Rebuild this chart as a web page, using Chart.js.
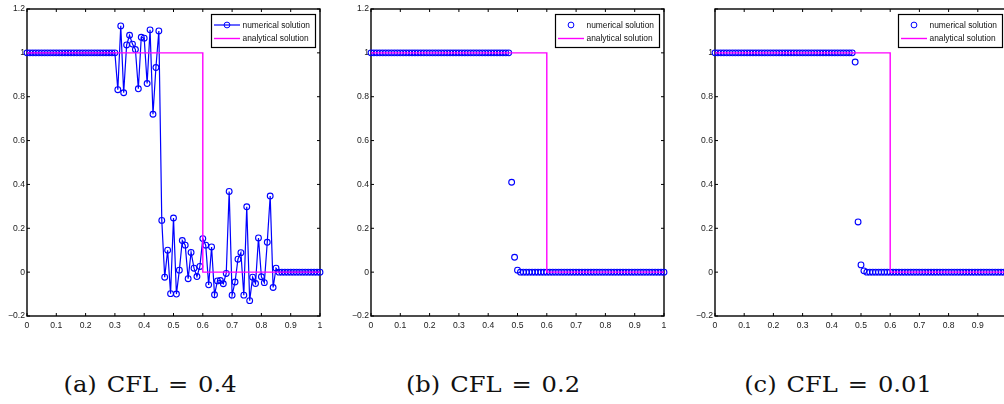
<!DOCTYPE html>
<html>
<head>
<meta charset="utf-8">
<script src="https://cdn.jsdelivr.net/npm/chart.js@4.4.1/dist/chart.umd.min.js"></script>
<style>
  html, body { margin: 0; padding: 0; background: #fff; }
  body { position: relative; width: 1004px; height: 404px; overflow: hidden; }
  canvas { position: absolute; top: 0; }
  .caption {
    position: absolute; top: 374px; line-height: 22px; white-space: nowrap;
    font-family: "DejaVu Serif", serif; font-size: 22px; color: #111;
    word-spacing: 2px; transform: translateX(-50%) scaleX(1.1);
  }
</style>
</head>
<body>
<canvas id="cflA" width="335" height="336" style="left:0px"></canvas>
<canvas id="cflB" width="335" height="336" style="left:340px"></canvas>
<canvas id="cflC" width="340" height="336" style="left:680px"></canvas>
<div class="caption" style="left:150px">(a) CFL = 0.4</div>
<div class="caption" style="left:493px">(b) CFL = 0.2</div>
<div class="caption" style="left:838px">(c) CFL = 0.01</div>

<script>
// grid nodes on [0, 1]
const xNodes = [
  0, 0.01, 0.02, 0.03, 0.04, 0.05, 0.06, 0.07, 0.08, 0.09,
  0.1, 0.11, 0.12, 0.13, 0.14, 0.15, 0.16, 0.17, 0.18, 0.19,
  0.2, 0.21, 0.22, 0.23, 0.24, 0.25, 0.26, 0.27, 0.28, 0.29,
  0.3, 0.31, 0.32, 0.33, 0.34, 0.35, 0.36, 0.37, 0.38, 0.39,
  0.4, 0.41, 0.42, 0.43, 0.44, 0.45, 0.46, 0.47, 0.48, 0.49,
  0.5, 0.51, 0.52, 0.53, 0.54, 0.55, 0.56, 0.57, 0.58, 0.59,
  0.6, 0.61, 0.62, 0.63, 0.64, 0.65, 0.66, 0.67, 0.68, 0.69,
  0.7, 0.71, 0.72, 0.73, 0.74, 0.75, 0.76, 0.77, 0.78, 0.79,
  0.8, 0.81, 0.82, 0.83, 0.84, 0.85, 0.86, 0.87, 0.88, 0.89,
  0.9, 0.91, 0.92, 0.93, 0.94, 0.95, 0.96, 0.97, 0.98, 0.99,
  1
];

// numerical solution, CFL = 0.4
const uCfl04 = [
  1, 1, 1, 1, 1, 1, 1, 1, 1, 1,
  1, 1, 1, 1, 1, 1, 1, 1, 1, 1,
  1, 1, 1, 1, 1, 1, 1, 1, 1, 1,
  1, 0.832, 1.123, 0.818, 1.036, 1.08, 1.04, 1.015, 0.836, 1.071,
  1.067, 0.86, 1.105, 0.72, 0.933, 1.1, 0.236, -0.023, 0.1, -0.098,
  0.247, -0.1, 0.009, 0.144, 0.123, -0.03, 0.09, 0.018, -0.02, 0.026,
  0.153, 0.123, -0.058, 0.115, -0.103, -0.04, -0.038, -0.053, -0.006, 0.368,
  -0.105, -0.045, 0.059, 0.089, -0.105, 0.298, -0.13, -0.023, -0.052, 0.156,
  -0.021, -0.048, 0.136, 0.347, -0.07, 0.018, 0, 0, 0, 0,
  0, 0, 0, 0, 0, 0, 0, 0, 0, 0,
  0
];

// numerical solution, CFL = 0.2
const uCfl02 = [
  1, 1, 1, 1, 1, 1, 1, 1, 1, 1,
  1, 1, 1, 1, 1, 1, 1, 1, 1, 1,
  1, 1, 1, 1, 1, 1, 1, 1, 1, 1,
  1, 1, 1, 1, 1, 1, 1, 1, 1, 1,
  1, 1, 1, 1, 1, 1, 1, 1, 0.41, 0.068,
  0.009, 0, 0, 0, 0, 0, 0, 0, 0, 0,
  0, 0, 0, 0, 0, 0, 0, 0, 0, 0,
  0, 0, 0, 0, 0, 0, 0, 0, 0, 0,
  0, 0, 0, 0, 0, 0, 0, 0, 0, 0,
  0, 0, 0, 0, 0, 0, 0, 0, 0, 0,
  0
];

// numerical solution, CFL = 0.01
const uCfl001 = [
  1, 1, 1, 1, 1, 1, 1, 1, 1, 1,
  1, 1, 1, 1, 1, 1, 1, 1, 1, 1,
  1, 1, 1, 1, 1, 1, 1, 1, 1, 1,
  1, 1, 1, 1, 1, 1, 1, 1, 1, 1,
  1, 1, 1, 1, 1, 1, 1, 1, 0.958, 0.229,
  0.033, 0.006, 0, 0, 0, 0, 0, 0, 0, 0,
  0, 0, 0, 0, 0, 0, 0, 0, 0, 0,
  0, 0, 0, 0, 0, 0, 0, 0, 0, 0,
  0, 0, 0, 0, 0, 0, 0, 0, 0, 0,
  0, 0, 0, 0, 0, 0, 0, 0, 0, 0,
  0
];

// exact step profile
const exactX = [0, 0.6, 0.6, 1];
const exactU = [1, 1, 0, 0];

const xTicks = [0, 0.1, 0.2, 0.3, 0.4, 0.5, 0.6, 0.7, 0.8, 0.9, 1];
const xTickLabels = ['0', '0.1', '0.2', '0.3', '0.4', '0.5', '0.6', '0.7', '0.8', '0.9', '1'];
const yTicks = [-0.2, 0, 0.2, 0.4, 0.6, 0.8, 1, 1.2];
const yTickLabels = ['\u22120.2', '0', '0.2', '0.4', '0.6', '0.8', '1', '1.2'];
const yTickLabelsC = ['\u22120.2', '0', '0.2', '0.4', '0.6', '0.8', '1', ''];

const BLUE = '#0000ff';
const MAGENTA = '#ff00ff';
const tickFont = { family: '"Liberation Sans", Arial, sans-serif', size: 8.6 };

// box around the axes with inward ticks on all four sides
const boxAxes = {
  id: 'boxAxes',
  beforeDatasetsDraw(chart) {
    const { ctx, chartArea: a, scales: { x, y } } = chart;
    ctx.save();
    ctx.strokeStyle = '#000';
    ctx.lineWidth = 1.4;
    ctx.strokeRect(a.left, a.top, a.right - a.left, a.bottom - a.top);
    ctx.lineWidth = 1;
    ctx.beginPath();
    x.ticks.forEach(t => {
      const px = x.getPixelForValue(t.value);
      ctx.moveTo(px, a.bottom); ctx.lineTo(px, a.bottom - 3);
      ctx.moveTo(px, a.top); ctx.lineTo(px, a.top + 3);
    });
    y.ticks.forEach(t => {
      const py = y.getPixelForValue(t.value);
      ctx.moveTo(a.left, py); ctx.lineTo(a.left + 3, py);
      ctx.moveTo(a.right, py); ctx.lineTo(a.right - 3, py);
    });
    ctx.stroke();
    ctx.restore();
  }
};

// boxed legend in the upper right corner
const boxLegend = {
  id: 'boxLegend',
  afterDraw(chart) {
    const { ctx, chartArea: a } = chart;
    const w = 104, h = 33;
    const left = a.right - 4.5 - w, top = a.top + 5.5;
    ctx.save();
    ctx.fillStyle = '#fff';
    ctx.fillRect(left, top, w, h);
    ctx.strokeStyle = '#000';
    ctx.lineWidth = 1.2;
    ctx.strokeRect(left, top, w, h);
    ctx.font = '8.4px "Liberation Sans", Arial, sans-serif';
    ctx.textBaseline = 'middle';
    chart.data.datasets.forEach((ds, i) => {
      const cy = top + 10.5 + i * 13.5;
      if (ds.showLine !== false) {
        ctx.strokeStyle = ds.borderColor;
        ctx.lineWidth = ds.borderWidth;
        ctx.beginPath();
        ctx.moveTo(left + 2.5, cy);
        ctx.lineTo(left + 28.5, cy);
        ctx.stroke();
      }
      if (ds.pointRadius > 0) {
        ctx.strokeStyle = ds.pointBorderColor;
        ctx.lineWidth = 1;
        ctx.beginPath();
        ctx.arc(left + 15.5, cy, ds.pointRadius, 0, Math.PI * 2);
        ctx.stroke();
      }
      ctx.fillStyle = '#111';
      ctx.fillText(ds.label, left + 31, cy + 0.5);
    });
    ctx.restore();
  }
};

function solutionChart(id, u, withLine, axisWidth, padRight, yLabels) {
  const canvas = document.getElementById(id);
  return new Chart(canvas, {
    type: 'line',
    data: {
      datasets: [{
        label: 'numerical solution',
        data: xNodes.map((x, i) => ({ x, y: u[i] })),
        showLine: withLine,
        borderColor: BLUE,
        borderWidth: 1.2,
        pointStyle: 'circle',
        pointRadius: 2.9,
        pointBorderColor: BLUE,
        pointBackgroundColor: 'rgba(0,0,0,0)',
        pointBorderWidth: 1.1,
        tension: 0,
        clip: false,
        order: 1
      }, {
        label: 'analytical solution',
        data: exactX.map((x, i) => ({ x, y: exactU[i] })),
        borderColor: MAGENTA,
        borderWidth: 1.4,
        pointRadius: 0,
        tension: 0,
        clip: false,
        order: 0
      }]
    },
    options: {
      responsive: false,
      animation: false,
      devicePixelRatio: 1,
      events: [],
      layout: { padding: { left: 0, top: 9, right: padRight, bottom: 0 } },
      plugins: { legend: { display: false }, tooltip: { enabled: false } },
      scales: {
        x: {
          type: 'linear', min: 0, max: 1,
          afterBuildTicks: s => { s.ticks = xTicks.map(v => ({ value: v })); },
          afterFit: s => { s.height = 20; },
          grid: { display: false, drawTicks: false },
          border: { display: false },
          ticks: { font: tickFont, color: '#1a1a1a', padding: 4, maxRotation: 0,
                   autoSkip: false, callback: (v, i) => xTickLabels[i] }
        },
        y: {
          type: 'linear', min: -0.2, max: 1.2,
          afterBuildTicks: s => { s.ticks = yTicks.map(v => ({ value: v })); },
          afterFit: s => { s.width = axisWidth; },
          grid: { display: false, drawTicks: false },
          border: { display: false },
          ticks: { font: tickFont, color: '#1a1a1a', padding: 2,
                   autoSkip: false, callback: (v, i) => yLabels[i] }
        }
      }
    },
    plugins: [boxAxes, boxLegend]
  });
}

solutionChart('cflA', uCfl04, true, 27, 15, yTickLabels);
solutionChart('cflB', uCfl02, false, 31, 11, yTickLabels);
solutionChart('cflC', uCfl001, false, 35, 13, yTickLabelsC);
</script>
</body>
</html>
